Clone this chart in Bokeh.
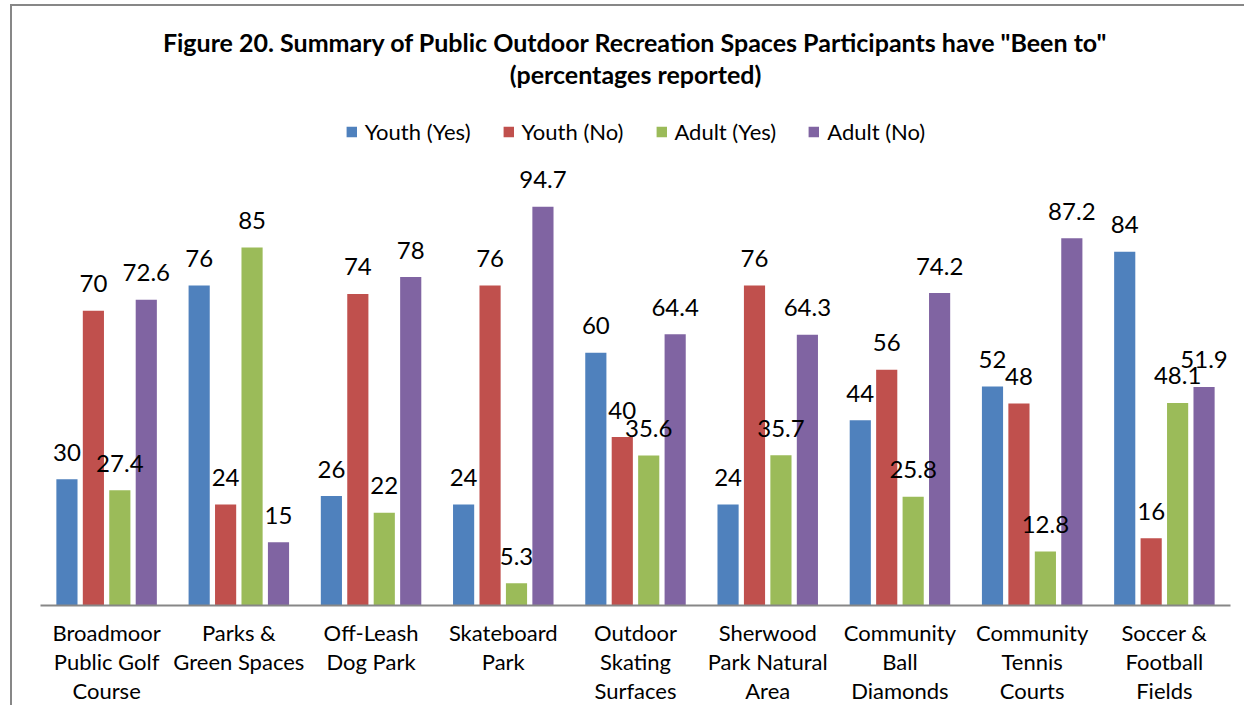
from bokeh.plotting import figure
from bokeh.models import FactorRange, Range1d, Title, ColumnDataSource
from bokeh.transform import dodge
from bokeh.core.properties import value
from bokeh.embed import file_html
from bokeh.resources import INLINE

categories = ["Broadmoor\nPublic Golf\nCourse", "Parks &\nGreen Spaces", "Off-Leash\nDog Park",
              "Skateboard\nPark", "Outdoor\nSkating\nSurfaces", "Sherwood\nPark Natural\nArea",
              "Community\nBall\nDiamonds", "Community\nTennis\nCourts", "Soccer &\nFootball\nFields"]
series_names = ["Youth (Yes)", "Youth (No)", "Adult (Yes)", "Adult (No)"]
youth_yes = [30, 76, 26, 24, 60, 24, 44, 52, 84]
youth_no = [70, 24, 74, 76, 40, 76, 56, 48, 16]
adult_yes = [27.4, 85, 22, 5.3, 35.6, 35.7, 25.8, 12.8, 48.1]
adult_no = [72.6, 15, 78, 94.7, 64.4, 64.3, 74.2, 87.2, 51.9]

colors = ["#4F81BD", "#C0504D", "#9BBB59", "#8064A2"]
offsets = [-0.3, -0.1, 0.1, 0.3]
FONT = "Lato"

p = figure(width=1234, height=701, x_range=FactorRange(*categories), y_range=Range1d(0, 121.6),
           output_backend="svg", toolbar_location=None,
           min_border_left=28, min_border_right=16, min_border_top=87, min_border_bottom=100)

p.add_layout(Title(text="(percentages reported)", align="center", text_font=FONT,
                   text_font_size="25px", text_font_style="bold", text_color="black",
                   standoff=10), "above")
p.add_layout(Title(text='Figure 20. Summary of Public Outdoor Recreation Spaces Participants have "Been to"',
                   align="center", text_font=FONT, text_font_size="25px", text_font_style="bold",
                   text_color="black", standoff=-11), "above")

all_vals = [youth_yes, youth_no, adult_yes, adult_no]
sources = []
for name, vals, col, off in zip(series_names, all_vals, colors, offsets):
    src = ColumnDataSource(dict(cat=categories, val=vals, lab=[f"{v:g}" for v in vals]))
    sources.append(src)
    p.vbar(x=dodge("cat", off, range=p.x_range), top="val", width=0.16, source=src,
           fill_color=col, line_color=None, legend_label=name)

for src, off in zip(sources, offsets):
    p.text(x=dodge("cat", off, range=p.x_range), y="val", text="lab", source=src,
           text_align="center", text_baseline="middle", y_offset=-27,
           text_font=value(FONT), text_font_size="24px", text_color="black")

p.yaxis.visible = False
p.xgrid.grid_line_color = None
p.ygrid.grid_line_color = None
p.outline_line_color = None
p.xaxis.axis_line_color = "#878787"
p.xaxis.axis_line_width = 2
p.xaxis.major_tick_line_color = None
p.xaxis.major_tick_out = 0
p.xaxis.major_tick_in = 0
p.xaxis.minor_tick_line_color = None
p.xaxis.major_label_text_font = FONT
p.xaxis.major_label_text_font_size = "22px"
p.xaxis.major_label_text_color = "black"
p.xaxis.major_label_text_line_height = 1.09
p.xaxis.major_label_standoff = 13

lg = p.legend[0]
lg.orientation = "horizontal"
lg.location = "top_center"
lg.label_text_font = FONT
lg.label_text_font_size = "22px"
lg.label_text_color = "black"
lg.glyph_width = 13
lg.glyph_height = 13
lg.spacing = 31
lg.label_standoff = 7
lg.border_line_color = None
lg.background_fill_alpha = 0
lg.padding = 0
lg.margin = 25

p.styles = {"margin-top": "4px", "margin-left": "10px",
            "border-left": "2px solid #878787", "border-top": "2px solid #878787"}

open("out.html", "w").write(file_html(p, INLINE))
